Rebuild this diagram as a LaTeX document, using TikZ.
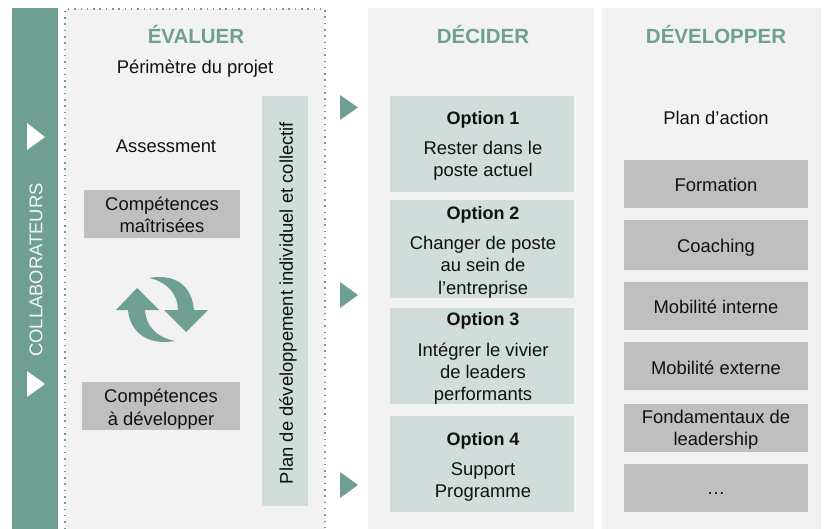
\documentclass[tikz,border=0pt]{standalone}
\usepackage{fontspec}
\setmainfont{Liberation Sans}
\definecolor{teal}{HTML}{6F9F92}
\definecolor{panel}{HTML}{F2F2F2}
\definecolor{pale}{HTML}{D0DDDA}
\definecolor{midgrey}{HTML}{BFBFBF}
\definecolor{ink}{HTML}{111111}
\tikzset{
 x=1pt,y=-1pt,
 txt/.style={font=\fontsize{18.4}{22.3}\selectfont,text=ink,align=center,inner sep=0pt},
 opt/.style={font=\bfseries\fontsize{18}{20}\selectfont,text=ink,inner sep=0pt},
 head/.style={font=\bfseries\fontsize{20.5}{24}\selectfont,text=teal,inner sep=0pt},
 panelbox/.style={fill=panel,draw=none},
 palebox/.style={fill=pale,draw=none},
 greybox/.style={fill=midgrey,draw=none,minimum width=184pt,minimum height=48pt,inner sep=0pt},
 tri/.style={fill=teal,draw=none},
 whitetri/.style={fill=white,draw=none},
}
\begin{document}
\begin{tikzpicture}
\useasboundingbox (0,0) rectangle (829,529);
% panels and bar
\fill[teal] (12,8) rectangle (58,529);
\fill[panelbox] (65,9) rectangle (325,529);
\draw[teal,line width=1.5pt,dash pattern=on 1.5pt off 4.8pt] (65,529) -- (65,9) -- (325,9) -- (325,529);
\fill[panelbox] (368,8) rectangle (594,529);
\fill[panelbox] (602,8) rectangle (821,529);
% white triangles
\fill[whitetri] (27,123) -- (45,137) -- (27,150) -- cycle;
\fill[whitetri] (27,371) -- (45,384) -- (27,397) -- cycle;
\node[txt,rotate=90,text=white!92!teal,font=\fontsize{18.4}{20}\selectfont] (collab) at (36,270) {COLLABORATEURS};
% headings
\node[head] (h1) at (196,35) {ÉVALUER};
\node[head] (h2) at (483,35) {DÉCIDER};
\node[head] (h3) at (716,35) {DÉVELOPPER};
\node[txt] (perim) at (195,69) {Périmètre du projet};
\node[txt] (assess) at (166,146) {Assessment};
% left boxes
\node[greybox,minimum width=156pt] (cm) at (162,214) {};
\node[txt] (cmt) at (162,215) {Compétences\\maîtrisées};
\node[greybox,minimum width=158pt] (cd) at (161,406) {};
\node[txt] (cdt) at (161,409) {Compétences\\à développer};
% vertical box
\fill[pale] (262,96) rectangle (308,506);
\node[txt,rotate=90] (plan) at (288,303) {Plan de développement individuel et collectif};
% cycle arrows
\fill[teal] (149,278) .. controls (178,273) and (192,288) .. (194,310) -- (208,310) -- (186,332) -- (164,310) -- (178,310) .. controls (178,295) and (168,282) .. (149,278) -- cycle;
\fill[teal] (175,341) .. controls (146,346) and (130,331) .. (128,310) -- (116,310) -- (137,288) -- (159,310) -- (145,310) .. controls (146,326) and (156,337) .. (175,341) -- cycle;
% teal triangles
\fill[tri] (340,95) -- (358,107.5) -- (340,120) -- cycle;
\fill[tri] (340,282) -- (358,295) -- (340,308) -- cycle;
\fill[tri] (340,472) -- (358,485) -- (340,498) -- cycle;
% options
\fill[palebox] (390,96) rectangle (574,192);
\fill[palebox] (390,200) rectangle (574,298);
\fill[palebox] (390,308) rectangle (574,404);
\fill[palebox] (390,416) rectangle (574,512);
\node[opt] (o1) at (483,119.5) {Option 1};
\node[txt] (o1t) at (483,161) {Rester dans le\\poste actuel};
\node[opt] (o2) at (483,214.5) {Option 2};
\node[txt] (o2t) at (483,267) {Changer de poste\\au sein de\\l’entreprise};
\node[opt] (o3) at (483,320.5) {Option 3};
\node[txt] (o3t) at (483,373.5) {Intégrer le vivier\\de leaders\\performants};
\node[opt] (o4) at (483,440.5) {Option 4};
\node[txt] (o4t) at (483,482) {Support\\Programme};
% right column
\node[txt] (pa) at (716,118) {Plan d’action};
\node[greybox] (f) at (716,184) {};
\node[txt] (ft) at (716,185) {Formation};
\node[greybox,minimum height=50pt] (c) at (716,245) {};
\node[txt] (ct) at (716,247.5) {Coaching};
\node[greybox] (mi) at (716,306) {};
\node[txt] (mit) at (716,307) {Mobilité interne};
\node[greybox] (me) at (716,366) {};
\node[txt] (met) at (716,368) {Mobilité externe};
\node[greybox] (fl) at (716,428) {};
\node[txt] (flt) at (716,430) {Fondamentaux de\\leadership};
\node[greybox] (d) at (716,488) {};
\node[txt] (dt) at (716,494) {…};
\end{tikzpicture}
\end{document}
